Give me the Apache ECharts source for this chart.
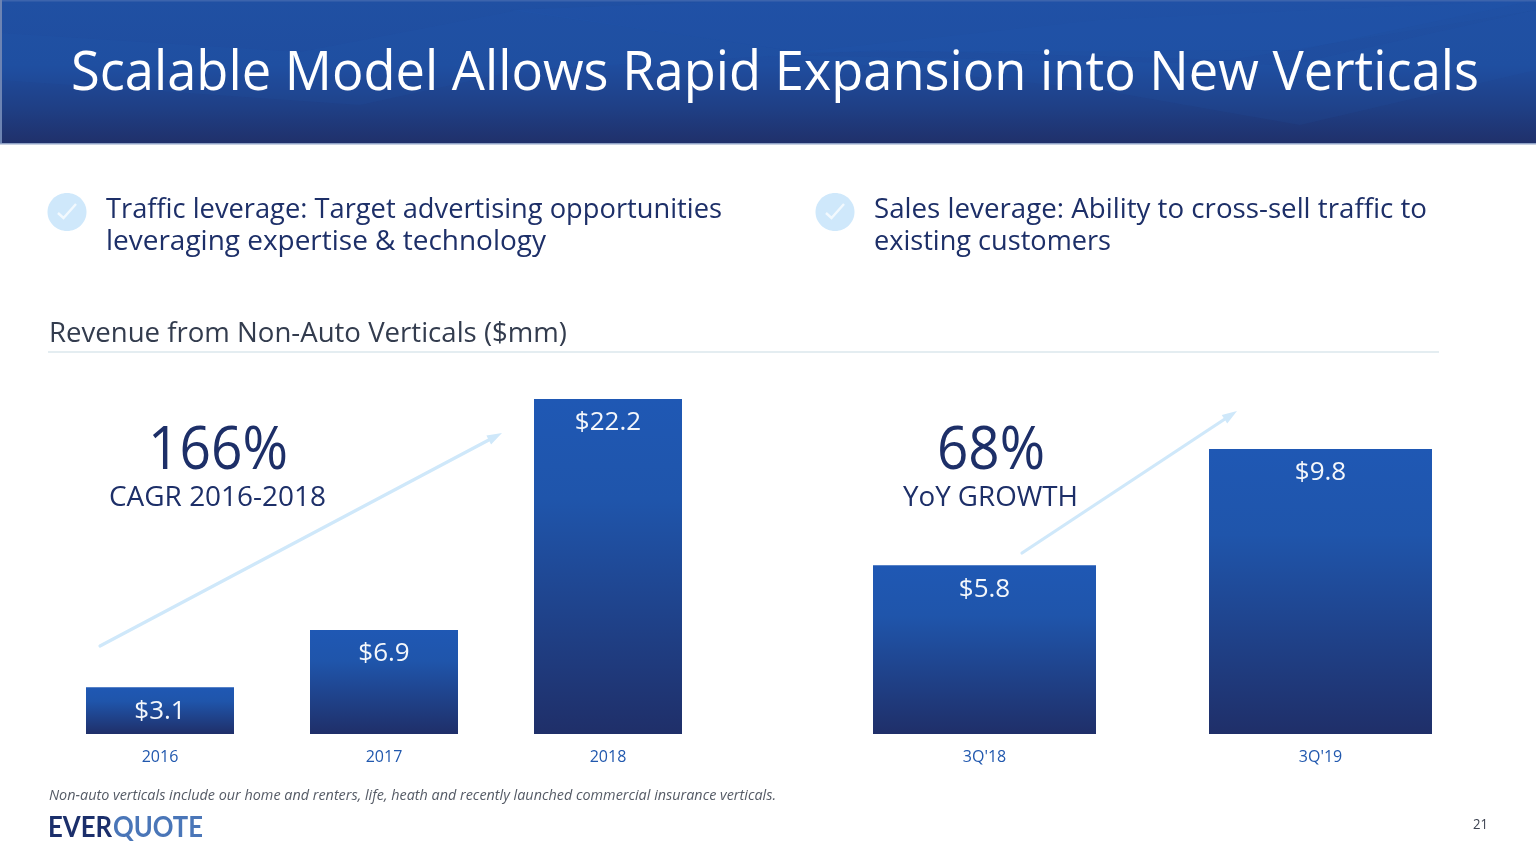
<!DOCTYPE html>
<html><head><meta charset="utf-8">
<style>html,body{margin:0;padding:0;background:#fff}#c{width:1536px;height:864px}</style>
<script src="https://cdn.jsdelivr.net/npm/echarts@6/dist/echarts.min.js"></script>
</head><body><div id="c"></div>
<script>
const annualCategories = ['2016','2017','2018'];
const annualRevenue = [3.1,6.9,22.2];
const quarterCategories = ["3Q'18","3Q'19"];
const quarterRevenue = [5.8,9.8];
const FONT = '"Open Sans"';
const NAVY = '#1d2f68';
const ctx = document.createElement('canvas').getContext('2d');
function txt(s,x,base,size,w,color,opt={}){
  const style=(opt.italic?'italic ':'')+(opt.weight||'normal')+' '+size+'px '+(opt.family||FONT);
  ctx.font=style;
  const sx=w/ctx.measureText(s).width;
  return {type:'text',x:x,y:base+(opt.drop||0.22)*size,scaleX:sx,z:20,style:{text:s,fill:color,font:style,textAlign:'left',textVerticalAlign:'bottom'}};
}
function poly(points,fill){return {type:'polygon',z:2,shape:{points},style:{fill}};}
function arrow(x1,y1,x2,y2){
  const a=Math.atan2(y2-y1,x2-x1),L=15,H=5;
  const bx=x2-L*Math.cos(a),by=y2-L*Math.sin(a),nx=-Math.sin(a),ny=Math.cos(a);
  return [
    {type:'line',z:5,shape:{x1,y1,x2:bx,y2:by},style:{stroke:'#cfe8fa',lineWidth:3.2,lineCap:'round'}},
    {type:'polygon',z:5,shape:{points:[[x2,y2],[bx+nx*H,by+ny*H],[bx-nx*H,by-ny*H]]},style:{fill:'#cfe8fa'}}
  ];
}
function check(cx,cy){return [
  {type:'ellipse',z:5,shape:{cx,cy,rx:19.5,ry:19},style:{fill:'#cfe8fb'}},
  {type:'polyline',z:6,shape:{points:[[cx-9,cy+1],[cx-3.5,cy+6],[cx+9,cy-8]]},style:{stroke:'#f2f9fe',lineWidth:2.4,fill:null}}
];}
const barGrad={type:'linear',x:0,y:0,x2:0,y2:1,colorStops:[{offset:0,color:'#1f58b4'},{offset:.3,color:'#1f55ab'},{offset:1,color:'#1f2f69'}]};
function barSeries(data,xi,width){return {type:'bar',xAxisIndex:xi,yAxisIndex:xi,data,barWidth:width,
  itemStyle:{color:barGrad},
  label:{show:true,position:'insideTop',distance:11,color:'#f4f7fb',fontFamily:FONT,fontSize:26,formatter:p=>'$'+p.value.toFixed(1)}};}
function xAxis(i,data){return {type:'category',gridIndex:i,data,axisLine:{show:false},axisTick:{show:false},
  axisLabel:{color:'#2158ae',fontFamily:FONT,fontSize:16,margin:15}};}
function yAxis(i,max){return {type:'value',gridIndex:i,min:0,max,show:false,splitLine:{show:false}};}
const option={
  animation:false,backgroundColor:'#fff',
  grid:[{left:48,width:672,top:399,height:335},{left:816.5,width:672,top:449,height:285}],
  xAxis:[xAxis(0,annualCategories),xAxis(1,quarterCategories)],
  yAxis:[yAxis(0,22.2),yAxis(1,9.8)],
  series:[barSeries(annualRevenue,0,148),barSeries(quarterRevenue,1,223)],
  graphic:[
    {type:'rect',z:1,shape:{x:0,y:0,width:1536,height:144},style:{fill:{type:'linear',x:0,y:0,x2:0,y2:1,colorStops:[{offset:0,color:'#2050a3'},{offset:.45,color:'#1f4d9f'},{offset:.75,color:'#1f3f85'},{offset:1,color:'#20306a'}]}}},
    poly([[0,33],[300,52],[520,10],[800,52],[1100,20],[1536,0],[1536,10],[1230,60],[880,50],[520,70],[360,105],[0,80]],'rgba(40,100,190,0.10)'),
    poly([[510,10],[760,0],[1536,0],[1300,50],[800,52]],'rgba(35,95,185,0.14)'),
    poly([[768,55],[1100,90],[1300,125],[1536,70],[1536,10],[1290,65]],'rgba(35,95,185,0.10)'),
    {type:'rect',z:3,shape:{x:0,y:0,width:1536,height:1.5},style:{fill:'#3c64ad'}},
    {type:'rect',z:3,shape:{x:0,y:0,width:2,height:144},style:{fill:'#6d84b3'}},
    {type:'rect',z:3,shape:{x:0,y:143,width:1536,height:1.5},style:{fill:'#8fa2c6'}},
    txt('Scalable Model Allows Rapid Expansion into New Verticals',71,90,54,1408,'#ffffff'),
    ...check(67,212),...check(835,212),
    txt('Traffic leverage: Target advertising opportunities',106,218,28,616,NAVY),
    txt('leveraging expertise & technology',106,250,28,440,NAVY),
    txt('Sales leverage: Ability to cross-sell traffic to',874,218,28,553,NAVY),
    txt('existing customers',874,250,28,237,NAVY),
    txt('Revenue from Non-Auto Verticals ($mm)',49,342,27,518,'#333c4e'),
    {type:'rect',z:5,shape:{x:48,y:351,width:1391,height:2},style:{fill:'#e4edf1'}},
    ...arrow(100,646,502,433),...arrow(1022,553,1237,411),
    txt('166%',148,469,60,140,NAVY),
    txt('CAGR 2016-2018',109,506,28,217,NAVY),
    txt('68%',937,469,60,108,NAVY),
    txt('YoY GROWTH',903,506,28,175,NAVY),
    txt('Non-auto verticals include our home and renters, life, heath and recently launched commercial insurance verticals.',49,800,15,727,'#555b66',{italic:true}),
    txt('EVER',48,836,28,64,'#1b2f6b',{weight:'700',family:'Lato',drop:0.2}),
    txt('QUOTE',113,836,28,90,'#4a76b8',{weight:'700',family:'Lato',drop:0.2}),
    txt('21',1473,829,14,15,'#3c4250')
  ]
};
echarts.init(document.getElementById('c'),null,{renderer:'canvas'}).setOption(option);
</script></body></html>
